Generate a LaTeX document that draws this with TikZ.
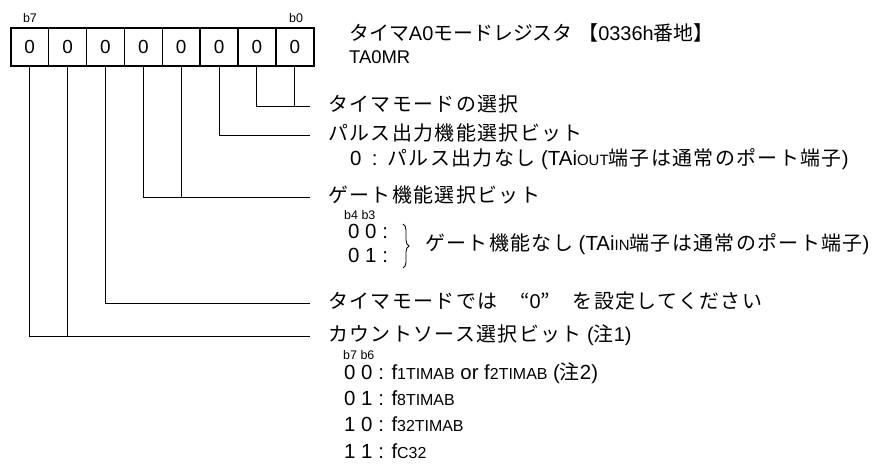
\documentclass[tikz,border=0pt]{standalone}
\usepackage{fontspec}
\setmainfont{Liberation Sans}
\newfontfamily\jp[LetterSpace=7]{Noto Sans CJK JP}
\newfontfamily\jpt{Noto Sans CJK JP}
\newcommand\J[1]{{\jp #1}}
\newcommand\JT[1]{{\jpt #1}}
\newcommand\sm[1]{{\fontsize{15}{15}\selectfont #1}}
\newcommand\smb[1]{{\fontsize{16}{16}\selectfont #1}}
\newcommand\jsz{\fontsize{20}{20}\selectfont}
\usetikzlibrary{decorations.pathreplacing}
\begin{document}
\begin{tikzpicture}[x=1bp,y=-1bp,
  cell/.style={draw, line width=1.6bp, minimum width=37.875bp, minimum height=38bp, inner sep=0,
    font=\fontsize{19}{19}\selectfont, anchor=north west},
  lbl/.style={anchor=west, inner sep=0, text height=13bp, text depth=3bp, font=\jsz},
  lat/.style={anchor=west, inner sep=0, text height=13bp, text depth=3bp, font=\fontsize{20.5}{20.5}\selectfont},
  bitno/.style={inner sep=0, font=\fontsize{12.5}{12.5}\selectfont},
  conn/.style={line width=1bp}]
\useasboundingbox (0,0) rectangle (891,475);
% register cells
\foreach \i in {0,...,7}{
  \node[cell] (c\i) at ({10+(7-\i)*37.875},27) {0};
}
\node[bitno] (lb7) at (30,18) {b7};
\node[bitno] (lb0) at (296,18) {b0};
% connectors
\coordinate (h10) at (310,107);
\coordinate (h2) at (310,136);
\coordinate (h43) at (310,198);
\coordinate (h5) at (310,304);
\coordinate (h76) at (310,337);
\draw[conn] (c1.south) |- (h10);
\draw[conn] (c0.south) -- (c0.south |- h10);
\draw[conn] (c2.south) |- (h2);
\draw[conn] (c4.south) |- (h43);
\draw[conn] (c3.south) -- (c3.south |- h43);
\draw[conn] (c5.south) |- (h5);
\draw[conn] (c7.south) |- (h76);
\draw[conn] (c6.south) -- (c6.south |- h76);
% texts
\node[lbl] (title) at (349,36) {\JT{タイマ}A0\JT{モードレジスタ} \JT{【}0336h\JT{番地】}};
\node[lat, font=\fontsize{18.5}{18.5}\selectfont] (reg) at (349,59) {TA0MR};
\node[lbl] (t10) at (328,107) {\J{タイマモードの選択}};
\node[lbl] (t2) at (328,136) {\J{パルス出力機能選択ビット}};
\node[lat] (t2a) at (350,161) {0\enspace:\enspace{\jsz\J{パルス出力なし}} (TAi\sm{OUT}{\jsz\J{端子は通常のポート端子}})};
\node[lbl] (t43) at (328,198) {\J{ゲート機能選択ビット}};
\node[bitno, anchor=west] (b43) at (344,215) {b4 b3};
\node[lat] (g00) at (348,234) {0 0 :};
\node[lat] (g01) at (348,258) {0 1 :};
\draw[line width=0.8bp, decorate, decoration={brace, amplitude=6bp}] (403,224) -- (403,268);
\node[lat] (gx) at (425,246) {{\jsz\J{ゲート機能なし}} (TAi\sm{IN}{\jsz\J{端子は通常のポート端子}})};
\node[lbl] (t5) at (328,304) {\J{タイマモードでは　“}0\J{”　を設定してください}};
\node[lbl] (t76) at (328,337) {\J{カウントソース選択ビット} (\J{注}1)};
\node[bitno, anchor=west] (b76) at (343,355) {b7 b6};
\node[lat] (s00) at (344,374) {0 0 : f\smb{1TIMAB} or f\smb{2TIMAB} ({\jsz\J{注}}2)};
\node[lat] (s01) at (344,400) {0 1 : f\smb{8TIMAB}};
\node[lat] (s10) at (344,426) {1 0 : f\smb{32TIMAB}};
\node[lat] (s11) at (344,453) {1 1 : f\smb{C32}};
\end{tikzpicture}
\end{document}
